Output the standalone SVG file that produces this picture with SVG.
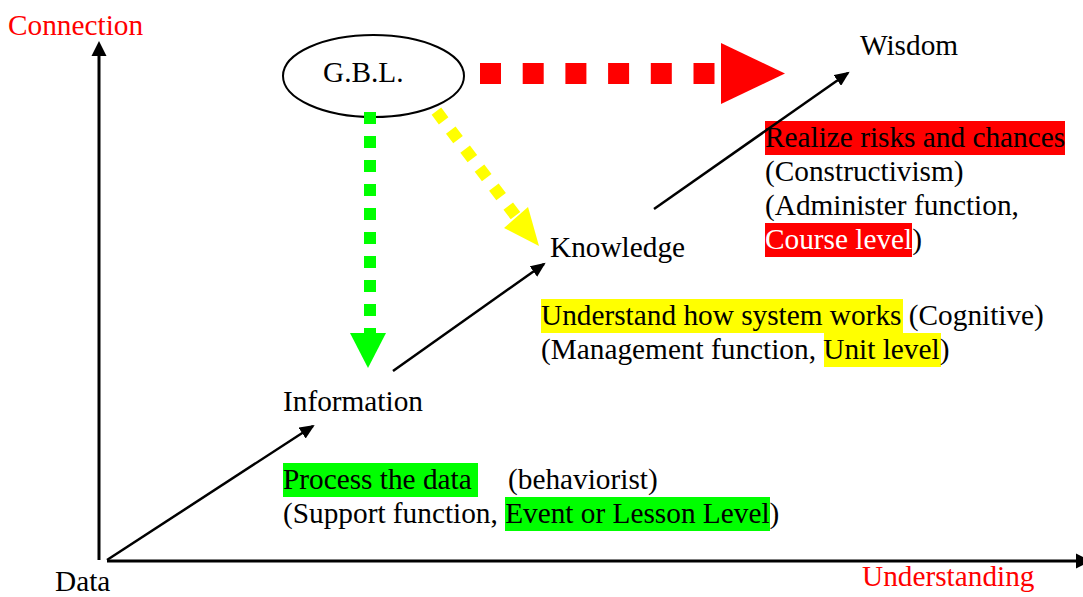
<svg xmlns="http://www.w3.org/2000/svg" width="1083" height="597" viewBox="0 0 1083 597">
<style>
text{font-family:"Liberation Serif","Times New Roman",serif;font-size:29.3px;fill:#000}
.red{fill:#ff0000}
.wh{fill:#ffffff}
.axis{stroke:#000;stroke-width:3;fill:none}
.arr{stroke:#000;stroke-width:2.5;fill:none;marker-end:url(#ah)}
</style>
<defs>
<marker id="ah" markerUnits="userSpaceOnUse" markerWidth="16" markerHeight="13" refX="13" refY="6.5" orient="auto">
<path d="M0,0 L15,6.5 L0,13 z" fill="#000"/>
</marker>
</defs>
<rect width="1083" height="597" fill="#fff"/>
<g id="axes">
<line class="axis" x1="99" y1="560" x2="99" y2="55"/>
<polygon points="91.5,56 106.5,56 99,41" fill="#000"/>
<line class="axis" x1="107" y1="561" x2="1077" y2="561"/>
<polygon points="1076,553.5 1076,568.5 1091,561" fill="#000"/>
<text class="red" x="8" y="35">Connection</text>
<text class="red" x="862" y="586">Understanding</text>
</g>
<g id="gbl">
<ellipse cx="373.5" cy="76" rx="90.5" ry="41" fill="#fff" stroke="#000" stroke-width="2"/>
<text x="323" y="82">G.B.L.</text>
</g>
<g id="data"><text x="55" y="591">Data</text></g>
<g id="information"><text x="283" y="411">Information</text></g>
<g id="knowledge"><text x="550" y="257">Knowledge</text></g>
<g id="wisdom"><text x="860" y="55">Wisdom</text></g>
<g id="label-behaviorist">
<rect x="283" y="463" width="195" height="34" fill="#00ff00"/>
<rect x="505" y="497" width="265" height="34" fill="#00ff00"/>
<text x="283" y="489">Process the data</text>
<text x="508" y="489">(behaviorist)</text>
<text x="283" y="523">(Support function, <tspan>Event or Lesson Level</tspan>)</text>
</g>
<g id="label-cognitive">
<rect x="541" y="299" width="362" height="34" fill="#ffff00"/>
<rect x="824" y="333" width="117" height="34" fill="#ffff00"/>
<text x="541" y="325">Understand how system works (Cognitive)</text>
<text x="541" y="359">(Management function, Unit level)</text>
</g>
<g id="label-constructivism">
<rect x="765" y="121" width="300" height="34" fill="#ff0000"/>
<rect x="765" y="223" width="147" height="34" fill="#ff0000"/>
<text x="765" y="147">Realize risks and chances</text>
<text x="765" y="181">(Constructivism)</text>
<text x="765" y="215">(Administer function,</text>
<text x="765" y="249"><tspan class="wh">Course level</tspan>)</text>
</g>
<g id="connectors">
<line class="arr" x1="107" y1="560" x2="313" y2="426"/>
<line class="arr" x1="393" y1="371" x2="544" y2="264"/>
<line class="arr" x1="654" y1="209" x2="848" y2="73"/>
<line x1="480" y1="73.5" x2="716" y2="73.5" stroke="#ff0000" stroke-width="21" stroke-dasharray="21 21.7"/>
<polygon points="721,43 785,73.5 721,104" fill="#ff0000"/>
<line x1="370" y1="112" x2="370" y2="340" stroke="#00ff00" stroke-width="12" stroke-dasharray="12 12"/>
<polygon points="350,333 386,333 368,368" fill="#00ff00"/>
<line x1="436.4" y1="111.2" x2="515.6" y2="215.8" stroke="#ffff00" stroke-width="12" stroke-dasharray="12 11.8"/>
<polygon points="504,228 528,207 539,246" fill="#ffff00"/>
</g>
</svg>
